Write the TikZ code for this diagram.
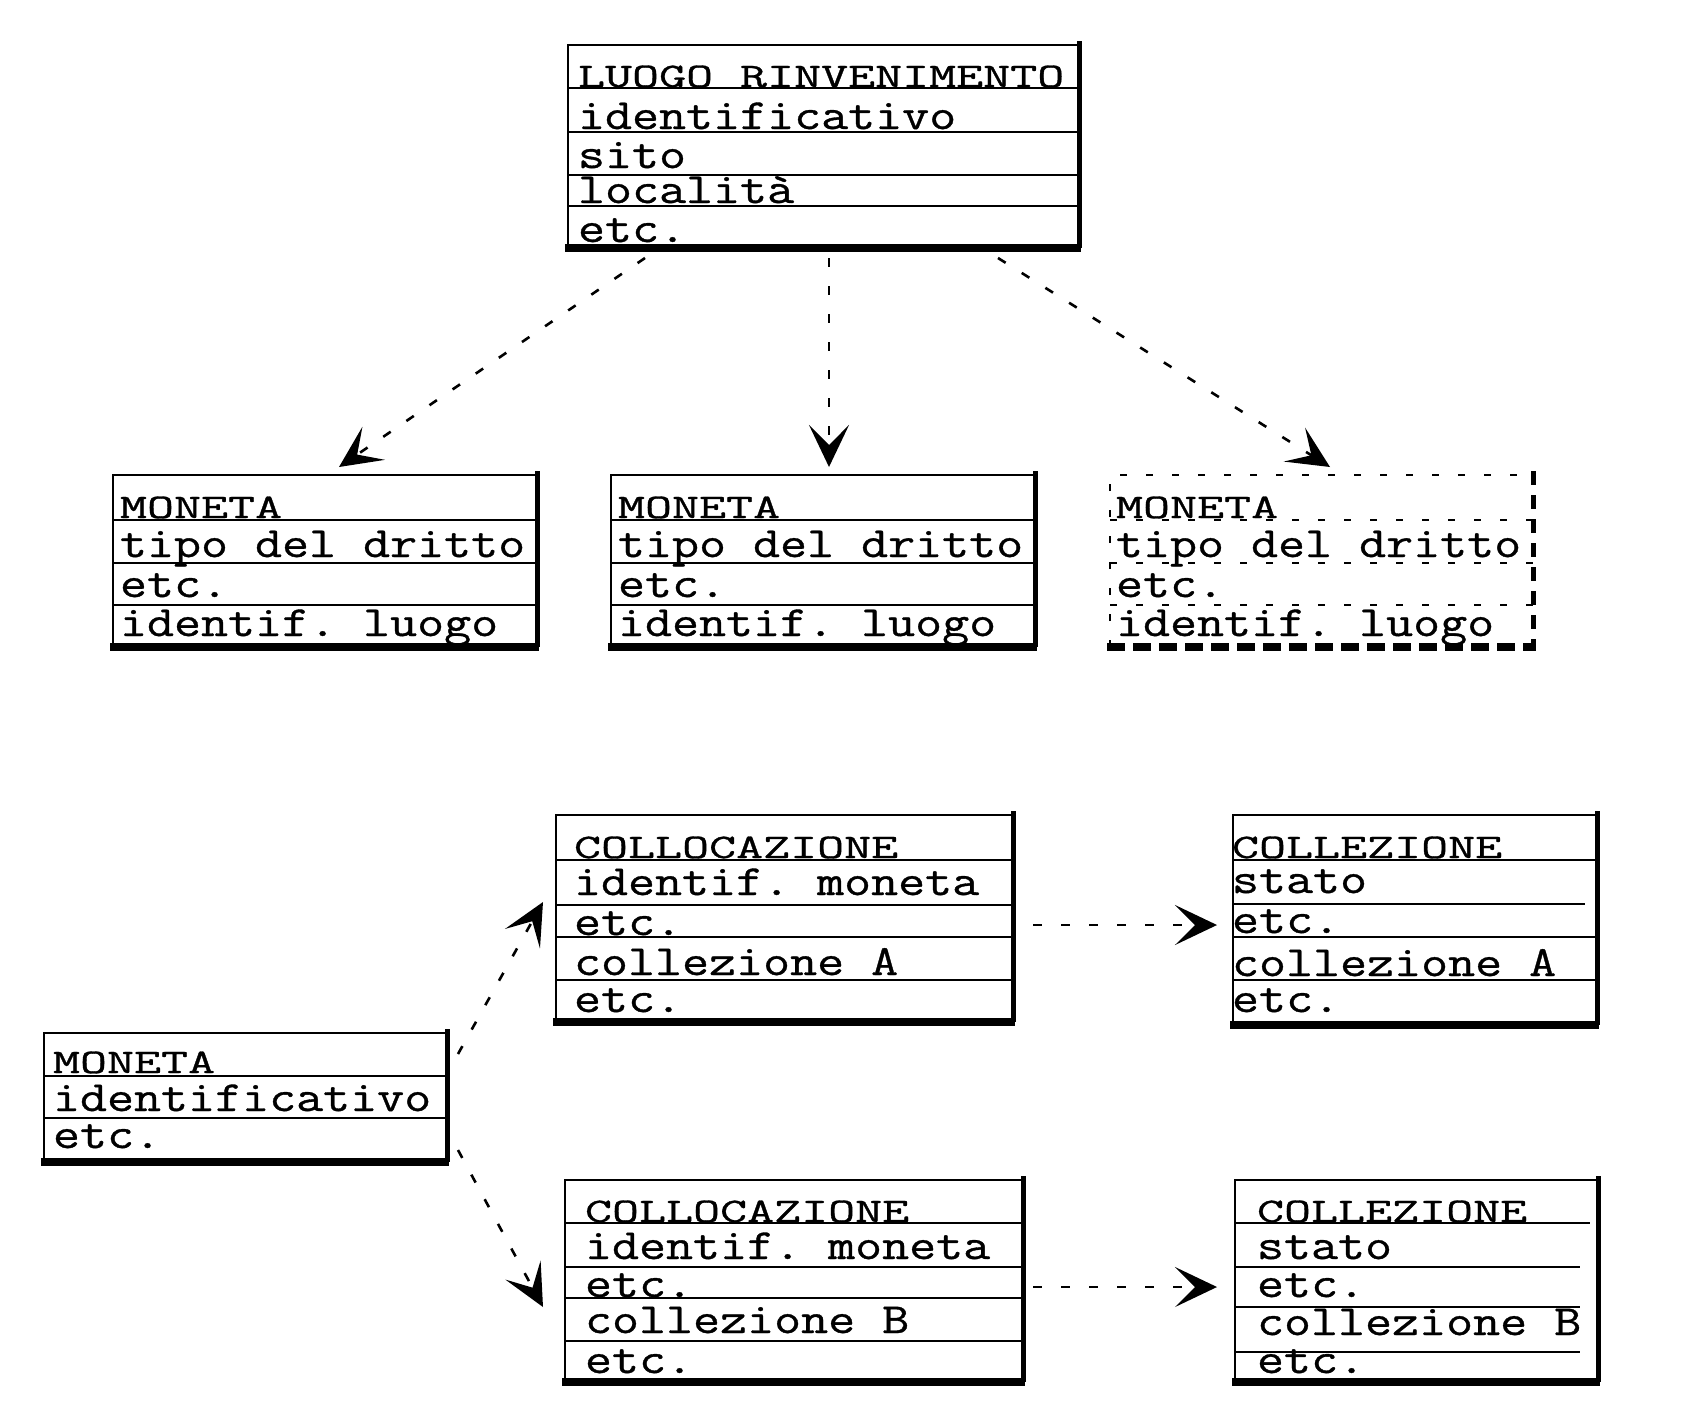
\documentclass[tikz,border=0pt]{standalone}
\usepackage{fontspec}
\usepackage{graphicx}
\usetikzlibrary{arrows.meta}
\newfontfamily\cour[FakeStretch=1.22,FakeBold=0.8]{Latin Modern Mono}
\newcommand\ttl[1]{\scalebox{1}[0.8]{#1}}
\tikzset{
  frame/.style={line width=1.8pt},
  rside/.style={line width=5pt},
  bside/.style={line width=8pt},
  dframe/.style={line width=1.8pt, dash pattern=on 7pt off 19pt},
  txt/.style={anchor=base west, inner sep=0pt, outer sep=0pt, font={\cour\fontsize{43}{50}\selectfont\frenchspacing}},
  conn/.style={line width=2.6pt, dash pattern=on 9pt off 19pt,
    -{Stealth[length=42pt,width=40pt,inset=20pt]}}
}
\newcommand\ebox[5]{%
  \node[inner sep=0pt,outer sep=0pt,minimum width={#4-#2},minimum height={#5-#3}] (#1) at ({(#2+#4)/2},{(#3+#5)/2}) {};
  \draw[frame] (#2,#5) -- (#2,#3) -- (#4,#3);
  \draw[rside] (#4,#3-4) -- (#4,#5);
  \draw[bside] (#2-3,#5) -- (#4+2,#5);
}
\newcommand\hrow[3]{\draw[frame] (#1,#3) -- (#2,#3);}
\begin{document}
\frenchspacing
\begin{tikzpicture}[x=1pt,y=-1pt]
\useasboundingbox (0,0) rectangle (1707,1422);

% top box
\ebox{luogo}{568}{45}{1079}{248}
\hrow{568}{1079}{88}\hrow{568}{1079}{132}\hrow{568}{1079}{175}\hrow{568}{1079}{206}
\node[txt] (l0) at (578,87) {\ttl{LUOGO RINVENIMENTO}};
\node[txt] (l1) at (578,129) {identificativo};
\node[txt] (l2) at (578,168) {sito};
\node[txt] (l3) at (578,203) {località};
\node[txt] (l4) at (578,242) {etc.};

% middle boxes
\ebox{m1}{113}{475}{537}{647}
\hrow{113}{537}{520}\hrow{113}{537}{563}\hrow{113}{537}{605}
\node[txt] (m1a) at (120,518) {\ttl{MONETA}};
\node[txt] (m1b) at (120,557) {tipo del dritto};
\node[txt] (m1c) at (120,597) {etc.};
\node[txt] (m1d) at (120,636) {identif. luogo};

\ebox{m2}{611}{475}{1035}{647}
\hrow{611}{1035}{520}\hrow{611}{1035}{563}\hrow{611}{1035}{605}
\node[txt] (m2a) at (618,518) {\ttl{MONETA}};
\node[txt] (m2b) at (618,557) {tipo del dritto};
\node[txt] (m2c) at (618,597) {etc.};
\node[txt] (m2d) at (618,636) {identif. luogo};

\node[inner sep=0pt,outer sep=0pt,minimum width=423pt,minimum height=172pt] (m3) at (1321.5,561) {};
\draw[dframe] (1110,647) -- (1110,475) -- (1533,475);
\draw[dframe] (1110,520) -- (1533,520);
\draw[dframe] (1110,563) -- (1533,563);
\draw[dframe] (1110,605) -- (1533,605);
\draw[line width=5pt, dash pattern=on 14pt off 10pt] (1533,471) -- (1533,647);
\draw[line width=8pt, dash pattern=on 18pt off 8pt] (1107,647) -- (1536,647);
\node[txt] (m3a) at (1116,518) {\ttl{MONETA}};
\node[txt] (m3b) at (1116,557) {tipo del dritto};
\node[txt] (m3c) at (1116,597) {etc.};
\node[txt] (m3d) at (1116,636) {identif. luogo};

% arrows top
\coordinate (a1s) at (645,258); \coordinate (a1e) at (339,467);
\coordinate (a2s) at (829,258); \coordinate (a2e) at (829,467);
\coordinate (a3s) at (998,258); \coordinate (a3e) at (1330,467);
\draw[conn] (a1s) -- (a1e);
\draw[conn] (a2s) -- (a2e);
\draw[conn] (a3s) -- (a3e);

% bottom MONETA
\ebox{mon}{44}{1033}{447}{1162}
\hrow{44}{447}{1076}\hrow{44}{447}{1118}
\node[txt] (mona) at (53,1073) {\ttl{MONETA}};
\node[txt] (monb) at (53,1111) {identificativo};
\node[txt] (monc) at (53,1148) {etc.};

% COLLOCAZIONE A
\ebox{colA}{556}{815}{1013}{1022}
\hrow{556}{1013}{860}\hrow{556}{1013}{905}\hrow{556}{1013}{937}\hrow{556}{1013}{980}
\node[txt] (colAa) at (574,858) {\ttl{COLLOCAZIONE}};
\node[txt] (colAb) at (574,895) {identif. moneta};
\node[txt] (colAc) at (574,935) {etc.};
\node[txt] (colAd) at (574,975) {collezione A};
\node[txt] (colAe) at (574,1012) {etc.};

% COLLEZIONE A
\ebox{zlA}{1233}{815}{1597}{1025}
\hrow{1233}{1597}{860}\hrow{1233}{1585}{904}\hrow{1233}{1597}{937}\hrow{1233}{1597}{980}
\node[txt] (zlAa) at (1232,858) {\ttl{COLLEZIONE}};
\node[txt] (zlAb) at (1232,893) {stato};
\node[txt] (zlAc) at (1232,933) {etc.};
\node[txt] (zlAd) at (1232,976) {collezione A};
\node[txt] (zlAe) at (1232,1012) {etc.};

% COLLOCAZIONE B
\ebox{colB}{565}{1180}{1023}{1382}
\hrow{565}{1023}{1223}\hrow{565}{1023}{1267}\hrow{565}{1023}{1298}\hrow{565}{1023}{1341}
\node[txt] (colBa) at (585,1222) {\ttl{COLLOCAZIONE}};
\node[txt] (colBb) at (585,1259) {identif. moneta};
\node[txt] (colBc) at (585,1297) {etc.};
\node[txt] (colBd) at (585,1333) {collezione B};
\node[txt] (colBe) at (585,1373) {etc.};

% COLLEZIONE B
\ebox{zlB}{1235}{1180}{1598}{1382}
\hrow{1235}{1590}{1223}\hrow{1235}{1580}{1267}\hrow{1235}{1580}{1307}\hrow{1235}{1580}{1352}
\node[txt] (zlBa) at (1257,1222) {\ttl{COLLEZIONE}};
\node[txt] (zlBb) at (1257,1259) {stato};
\node[txt] (zlBc) at (1257,1297) {etc.};
\node[txt] (zlBd) at (1257,1335) {collezione B};
\node[txt] (zlBe) at (1257,1373) {etc.};

% arrows bottom
\coordinate (a4s) at (458,1054); \coordinate (a4e) at (543,902);
\coordinate (a5s) at (458,1150); \coordinate (a5e) at (543,1307);
\coordinate (a6s) at (1033,925); \coordinate (a6e) at (1217,925);
\coordinate (a7s) at (1033,1287); \coordinate (a7e) at (1217,1287);
\draw[conn] (a4s) -- (a4e);
\draw[conn] (a5s) -- (a5e);
\draw[conn] (a6s) -- (a6e);
\draw[conn] (a7s) -- (a7e);
\end{tikzpicture}
\end{document}
